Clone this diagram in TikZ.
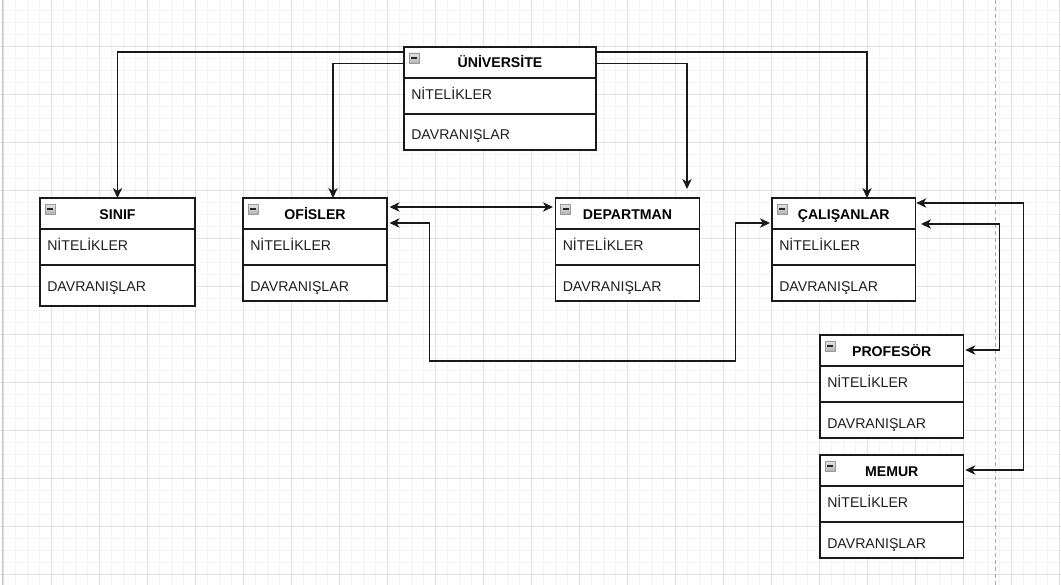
\documentclass[tikz,border=0pt]{standalone}
\usepackage{fontspec}
\setmainfont{Liberation Sans}
\usetikzlibrary{calc,arrows.meta}
\definecolor{gridmajor}{HTML}{E0E0E0}
\definecolor{gridminor}{HTML}{F3F3F3}
\definecolor{boxborder}{HTML}{1A1A1A}
\definecolor{itemcol}{HTML}{1E1E1E}
\definecolor{dashcol}{HTML}{A8A8A8}
\tikzset{
  classbox/.style={draw=boxborder, line width=1pt, fill=white, inner sep=0pt, outer sep=0pt, rectangle},
  boxline/.style={draw=boxborder, line width=1pt},
  titletext/.style={inner sep=0pt, anchor=base, font=\fontsize{10.6}{12}\selectfont\bfseries, text=black},
  itemtext/.style={inner sep=0pt, anchor=base west, font=\fontsize{10.6}{12}\selectfont, text=itemcol},
  iconbox/.style={draw=gray!80, line width=0.5pt, top color=gray!20, bottom color=gray!60},
  iconbar/.style={draw=black!85, line width=1.1pt},
  conn/.style={draw=black!90, line width=1pt, -{Stealth[length=7.5pt,width=7pt,inset=2.2pt]}},
  conn2/.style={draw=black!90, line width=1pt, {Stealth[length=7.5pt,width=7pt,inset=2.2pt]}-{Stealth[length=7.5pt,width=7pt,inset=2.2pt]}},
  minorgrid/.style={draw=gridminor, line width=0.75pt},
  majorgrid/.style={draw=gridmajor, line width=0.75pt}
}
% #1 name, #2 x, #3 y, #4 width, #5 methods height, #6 title
\newcommand\umlclass[6]{%
  \node[classbox, minimum width={#4*0.75pt}, minimum height={(67+#5)*0.75pt}, anchor=north west] (#1) at (#2,#3) {};
  \draw[boxline] ($(#1.north west)+(0,31)$) -- ($(#1.north east)+(0,31)$);
  \draw[boxline] ($(#1.north west)+(0,67)$) -- ($(#1.north east)+(0,67)$);
  \node[titletext] (#1-title) at ($(#1.north)+(0,21)$) {#6};
  \node[itemtext] (#1-attr) at ($(#1.north west)+(7,52)$) {NİTELİKLER};
  \node[itemtext] (#1-meth) at ($(#1.north west)+(7,93)$) {DAVRANIŞLAR};
  \draw[iconbox] ($(#1.north west)+(5,6)$) rectangle ($(#1.north west)+(15,16)$);
  \draw[iconbar] ($(#1.north west)+(7,11)$) -- ($(#1.north west)+(13,11)$);
}
\begin{document}
\begin{tikzpicture}[x=0.75pt,y=-0.75pt]
\useasboundingbox (0,0) rectangle (1061,585);
\fill[white] (0,0) rectangle (1061,585);
% grid
\foreach \i in {0,...,88} { \draw[minorgrid] ({3.7+12*\i},0) -- ({3.7+12*\i},585); }
\foreach \j in {0,...,47} { \draw[minorgrid] (0,{10.5+12*\j}) -- (1061,{10.5+12*\j}); }
\foreach \i in {0,...,22} { \draw[majorgrid] ({3.7+48*\i},0) -- ({3.7+48*\i},585); }
\foreach \j in {0,...,11} { \draw[majorgrid] (0,{46.5+48*\j}) -- (1061,{46.5+48*\j}); }
\draw[draw=gray!45, line width=0.75pt] (2.2,0) -- (2.2,585);
% dashed page break
\draw[dashcol, line width=0.75pt, dash pattern=on 3pt off 2.25pt] (995.8,0) -- (995.8,585);

% classes
\umlclass{uni}{404}{47}{192}{36}{ÜNİVERSİTE}
\umlclass{sinif}{40}{198}{155}{41}{SINIF}
\umlclass{ofis}{243}{198}{144}{36}{OFİSLER}
\umlclass{dept}{555.5}{198}{144}{36}{DEPARTMAN}
\umlclass{cal}{772}{198}{143.5}{36}{ÇALIŞANLAR}
\umlclass{prof}{820}{335}{143.5}{36}{PROFESÖR}
\umlclass{memur}{820}{455}{143.5}{36}{MEMUR}

% helper coordinates
\coordinate (bl) at (429.5,361);
\coordinate (br) at (735.5,361);
\coordinate (rp) at (999.5,350);
\coordinate (rm) at (1023.5,470);

% connectors
\draw[conn] ($(uni.north west)+(0,5)$) -| (sinif.north);
\draw[conn] ($(uni.north west)+(0,16.3)$) -| ($(ofis.north west)+(90,0)$);
\draw[conn] ($(uni.north east)+(0,5)$) -| ($(cal.north west)+(95,0)$);
\draw[conn] ($(uni.north east)+(0,16.3)$) -| ($(dept.north west)+(131.5,-9)$);
\draw[conn2] ($(ofis.north east)+(2.5,9)$) -- ($(dept.north west)+(-2.5,9)$);
\draw[conn2] ($(ofis.north east)+(2.5,25)$) -| (bl) -- (br) |- ($(cal.north west)+(-2,25)$);
\draw[conn2] ($(cal.north east)+(0.8,5)$) -| (rm) -- ($(memur.north east)+(1.8,15)$);
\draw[conn2] ($(cal.north east)+(5.5,26)$) -| (rp) -- ($(prof.north east)+(1.8,15)$);
\end{tikzpicture}
\end{document}
